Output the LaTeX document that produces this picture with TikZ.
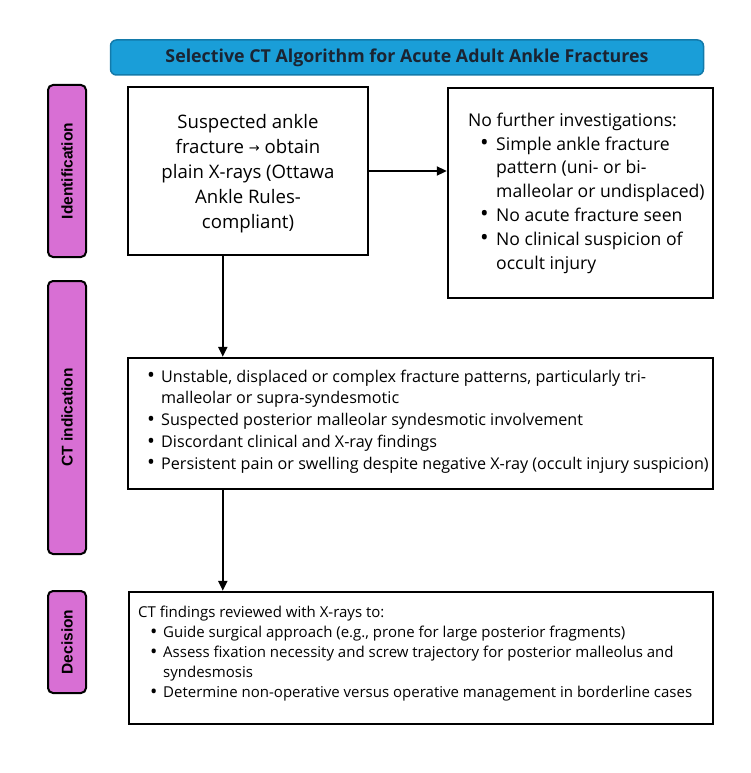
\documentclass[tikz,border=0pt]{standalone}
\usepackage{fontspec}
\setmainfont{Open Sans}
\newfontfamily\pillfont{Liberation Sans}
\newfontfamily\symfont{DejaVu Sans}
\usetikzlibrary{arrows.meta}
\definecolor{titlefill}{HTML}{1A9ED8}
\definecolor{titledraw}{HTML}{137AAA}
\definecolor{titletext}{HTML}{1B2432}
\definecolor{pillfill}{HTML}{D86FD4}
\newcommand\bulmark{\raisebox{-0.5pt}{\scalebox{1.3}{•}}}
\tikzset{
  box/.style={draw=black, line width=2.4pt, fill=white, inner sep=0pt},
  pill/.style={draw=black, line width=2pt, fill=pillfill, rounded corners=5pt, minimum width=38pt, inner sep=0pt},
  pilltext/.style={rotate=90, font=\pillfont\bfseries\fontsize{15.5}{18}\selectfont, text=black},
  txt/.style={inner sep=0pt, align=left, text=black},
  arr/.style={line width=2pt, -{Triangle[length=10pt,width=9pt]}},
}
\begin{document}
\begin{tikzpicture}[x=1pt,y=-1pt]
\useasboundingbox (0,0) rectangle (750,773);
\fill[white] (0,0) rectangle (750,773);
% title
\node[draw=titledraw, line width=1.5pt, fill=titlefill, rounded corners=6pt, minimum width=593pt, minimum height=35pt, inner sep=0pt,
  font=\bfseries\fontsize{17.8}{20}\selectfont, text=titletext] (title) at (407,57.5) {Selective CT Algorithm for Acute Adult Ankle Fractures};
% side pills
\node[pill, minimum height=172pt] (p1) at (67,171) {};
\node[pilltext] (p1t) at (p1.center) {Identification};
\node[pill, minimum height=273pt] (p2) at (67,417.5) {};
\node[pilltext] (p2t) at (p2.center) {CT indication};
\node[pill, minimum height=102pt] (p3) at (67,642) {};
\node[pilltext] (p3t) at (p3.center) {Decision};
% boxes
\node[box, minimum width=240pt, minimum height=168pt] (b1) at (248,171) {};
\node[box, minimum width=265pt, minimum height=210pt] (b2) at (580.5,193) {};
\node[box, minimum width=585pt, minimum height=131pt] (b3) at (420.5,423.5) {};
\node[box, minimum width=584pt, minimum height=132pt] (b4) at (421,658) {};
% texts
\node[txt, align=center, font=\fontsize{18.6}{25}\selectfont] (t1) at ([yshift=-2.5pt]b1.center) {Suspected ankle\\fracture {\symfont\fontsize{13}{13}\selectfont\raisebox{0.5pt}{→}} obtain\\plain X-rays (Ottawa\\Ankle Rules-\\compliant)};
\node[txt, anchor=west, font=\fontsize{17.6}{23.8}\selectfont] (t2) at (468,193) {No further investigations:\\
\hspace*{12pt}\makebox[16pt][l]{\bulmark}Simple ankle fracture\\
\hspace*{28pt}pattern (uni- or bi-\\
\hspace*{28pt}malleolar or undisplaced)\\
\hspace*{12pt}\makebox[16pt][l]{\bulmark}No acute fracture seen\\
\hspace*{12pt}\makebox[16pt][l]{\bulmark}No clinical suspicion of\\
\hspace*{28pt}occult injury};
\node[txt, anchor=west, font=\fontsize{16.15}{21.8}\selectfont] (t3) at (147,421.5) {\makebox[14pt][l]{\bulmark}Unstable, displaced or complex fracture patterns, particularly tri-\\
\hspace*{14pt}malleolar or supra-syndesmotic\\
\makebox[14pt][l]{\bulmark}Suspected posterior malleolar syndesmotic involvement\\
\makebox[14pt][l]{\bulmark}Discordant clinical and X-ray findings\\
\makebox[14pt][l]{\bulmark}Persistent pain or swelling despite negative X-ray (occult injury suspicion)};
\node[txt, anchor=west, font=\fontsize{15}{20}\selectfont] (t4) at (138,654) {CT findings reviewed with X-rays to:\\
\hspace*{12pt}\makebox[13pt][l]{\bulmark}Guide surgical approach (e.g., prone for large posterior fragments)\\
\hspace*{12pt}\makebox[13pt][l]{\bulmark}Assess fixation necessity and screw trajectory for posterior malleolus and\\
\hspace*{25pt}syndesmosis\\
\hspace*{12pt}\makebox[13pt][l]{\bulmark}Determine non-operative versus operative management in borderline cases};
% arrows
\draw[arr] (b1.east) -- (b1.east -| b2.west);
\coordinate (c1) at ([xshift=96pt]b1.south west);
\draw[arr] (c1) -- (c1 |- b3.north);
\coordinate (c2) at ([xshift=96pt]b3.south west);
\draw[arr] (c2) -- (c2 |- b4.north);
\end{tikzpicture}
\end{document}
